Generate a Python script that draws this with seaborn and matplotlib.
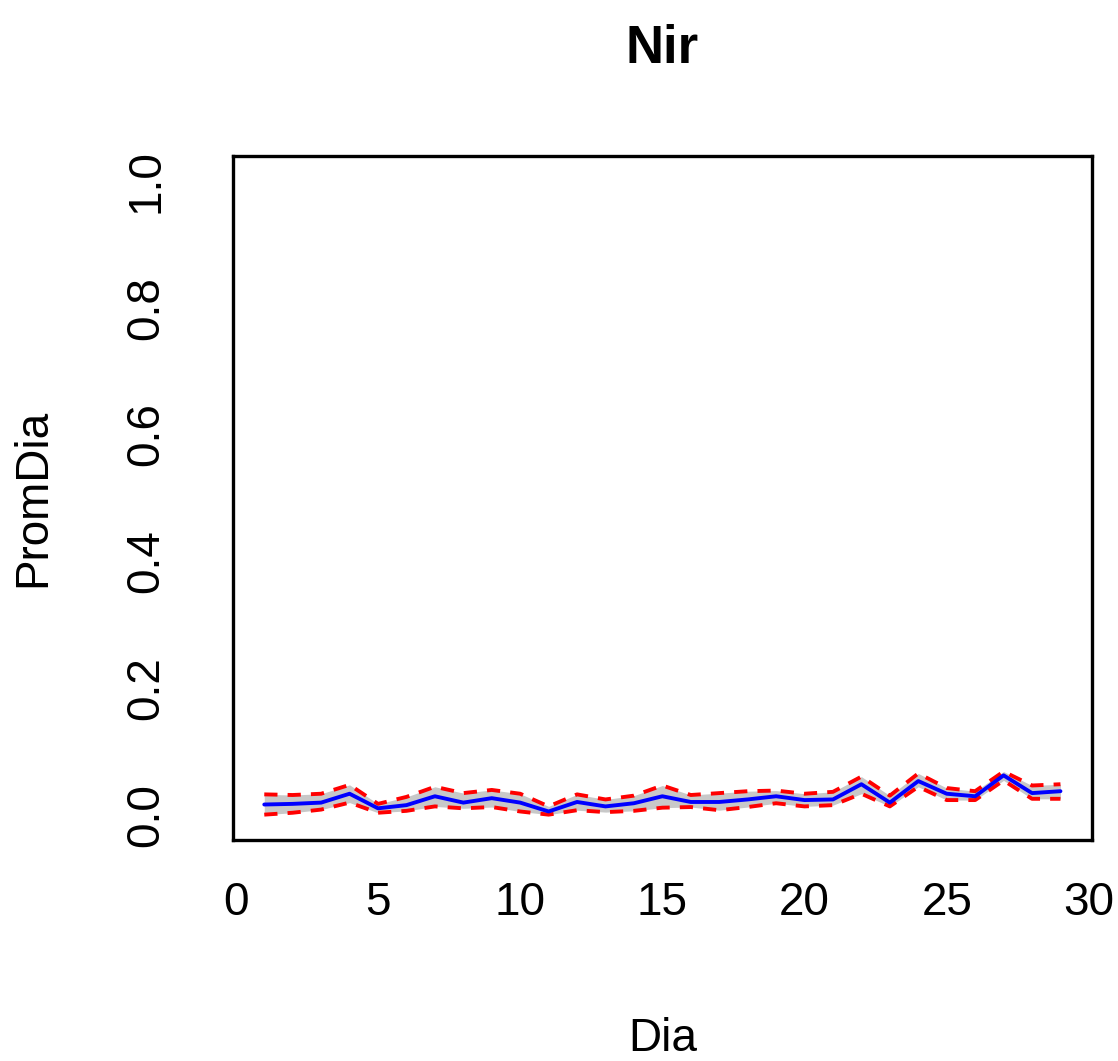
import matplotlib
matplotlib.use("Agg")
import matplotlib.pyplot as plt
import seaborn as sns
import pandas as pd

# Daily mean of the NIR index with its lower/upper bounds
dia = list(range(1, 30))
prom = [0.016, 0.017, 0.019, 0.033, 0.010, 0.015, 0.029, 0.019, 0.026, 0.019,
        0.005, 0.020, 0.013, 0.018, 0.029, 0.020, 0.020, 0.024, 0.029, 0.023,
        0.024, 0.048, 0.019, 0.053, 0.033, 0.029, 0.062, 0.034, 0.037]
inferior = [0.000, 0.003, 0.008, 0.019, 0.003, 0.006, 0.013, 0.010, 0.012, 0.005,
            0.000, 0.007, 0.004, 0.006, 0.011, 0.012, 0.007, 0.012, 0.018, 0.013,
            0.015, 0.033, 0.013, 0.044, 0.023, 0.023, 0.054, 0.025, 0.025]
superior = [0.032, 0.031, 0.033, 0.047, 0.017, 0.028, 0.044, 0.034, 0.039, 0.033,
            0.013, 0.032, 0.024, 0.030, 0.046, 0.031, 0.034, 0.037, 0.038, 0.033,
            0.036, 0.060, 0.030, 0.065, 0.042, 0.037, 0.068, 0.046, 0.048]

x_ticks = [0, 5, 10, 15, 20, 25, 30]
y_ticks = [0.0, 0.2, 0.4, 0.6, 0.8, 1.0]

df = pd.DataFrame({"Dia": dia, "PromDia": prom, "Inf": inferior, "Sup": superior})

sns.set_style("white")
plt.rcParams["font.family"] = ["Liberation Sans", "DejaVu Sans"]
plt.rcParams["text.color"] = "black"
plt.rcParams["axes.labelcolor"] = "black"

fig = plt.figure(figsize=(11.18, 10.61), dpi=100)
ax = fig.add_axes([0.2084, 0.2083, 0.9765 - 0.2084, 0.8533 - 0.2083])

ax.fill_between(df["Dia"], df["Inf"], df["Sup"], color="#c8c8c8", lw=0, zorder=1)
sns.lineplot(data=df, x="Dia", y="Inf", ax=ax, color="#ff0000", lw=2.8,
             dashes=False, zorder=2)
sns.lineplot(data=df, x="Dia", y="Sup", ax=ax, color="#ff0000", lw=2.8,
             dashes=False, zorder=2)
for ln in ax.lines:
    ln.set_dashes((3.4, 2.6))
sns.lineplot(data=df, x="Dia", y="PromDia", ax=ax, color="#0000ff", lw=2.8,
             zorder=3)

ax.set_xlim(-0.1, 30.1)
ax.set_ylim(-0.04, 1.04)
ax.set_xticks(x_ticks)
ax.set_xticklabels([str(t) for t in x_ticks])
ax.set_yticks(y_ticks)
ax.set_yticklabels([f"{t:.1f}" for t in y_ticks], rotation=90, va="center")

for sp in ax.spines.values():
    sp.set_visible(True)
    sp.set_color("black")
    sp.set_linewidth(2.4)

ax.tick_params(axis="both", direction="out", length=21.5, width=2.4,
               colors="black", labelsize=33)
ax.tick_params(axis="x", pad=8)
ax.tick_params(axis="y", pad=25)

ax.set_xlabel("Dia", fontsize=33, labelpad=66)
ax.set_ylabel("PromDia", fontsize=33, labelpad=50)
ax.set_title("Nir", fontsize=38, fontweight="bold", pad=67)

fig.savefig("out.png", dpi=100)
